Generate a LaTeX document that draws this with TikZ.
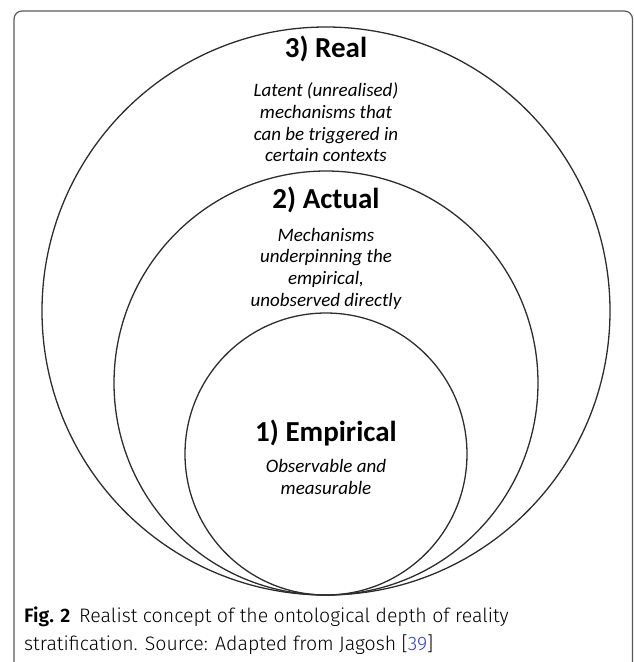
\documentclass[tikz,border=0pt]{standalone}
\usepackage{fontspec}
\usepackage{xcolor}
\usepackage{tikz}
\usetikzlibrary{positioning}
\newfontfamily\diagfont{Carlito}
\newfontfamily\capfont{Fira Sans Light}[BoldFont={Fira Sans SemiBold}]
\definecolor{ringgray}{RGB}{45,45,45}
\definecolor{framegray}{RGB}{90,90,90}
\definecolor{citeblue}{RGB}{40,60,225}

\tikzset{
  layer/.style={circle, draw=ringgray, line width=1.3pt, inner sep=0pt, outer sep=0pt, anchor=south},
  heading/.style={font=\diagfont\bfseries\fontsize{29}{31}\selectfont, inner sep=0pt},
  blurb/.style={font=\diagfont\itshape\fontsize{19}{21.7}\selectfont, align=center, inner sep=0pt},
  captext/.style={font=\capfont\fontsize{19.5}{28}\selectfont, anchor=base west, inner sep=0pt}
}

\begin{document}
\begin{tikzpicture}[x=1pt, y=-1pt]
        \useasboundingbox (0,0) rectangle (633,662);
        \begin{scope}
            \clip (0,0) rectangle (633,662);
            \draw[framegray, line width=1.2pt, rounded corners=8pt] (14,11) rectangle (632.5,700);
        \end{scope}

        % the three layers touch at the bottom
        \coordinate (touch) at (326,595);
        \node[layer, minimum size=568pt] (realring) at (touch) {};
        \node[layer, minimum size=424pt] (actualring) at (touch) {};
        \node[layer, minimum size=282pt] (empiricalring) at (touch) {};

        \node[heading] (realhead) at (326,49) {3) Real};
        \node[blurb] (realtext) at (326,122.5) {Latent (unrealised)\\mechanisms that\\can be triggered in\\certain contexts};

        \node[heading] (actualhead) at (326,200) {2) Actual};
        \node[blurb] (actualtext) at (326,268.5) {Mechanisms\\underpinning the\\empirical,\\unobserved directly};

        \node[heading] (empiricalhead) at (326,433) {1) Empirical};
        \node[blurb] (empiricaltext) at (326,477) {Observable and\\measurable};

        % caption
        \node[captext] (capone) at (24,622) {\textbf{Fig. 2}\hspace{9pt}Realist concept of the ontological depth of reality};
        \node[captext] (captwo) at (24,650) {stratification. Source: Adapted from Jagosh [\textcolor{citeblue}{39}]};
    \end{tikzpicture}
\end{document}
